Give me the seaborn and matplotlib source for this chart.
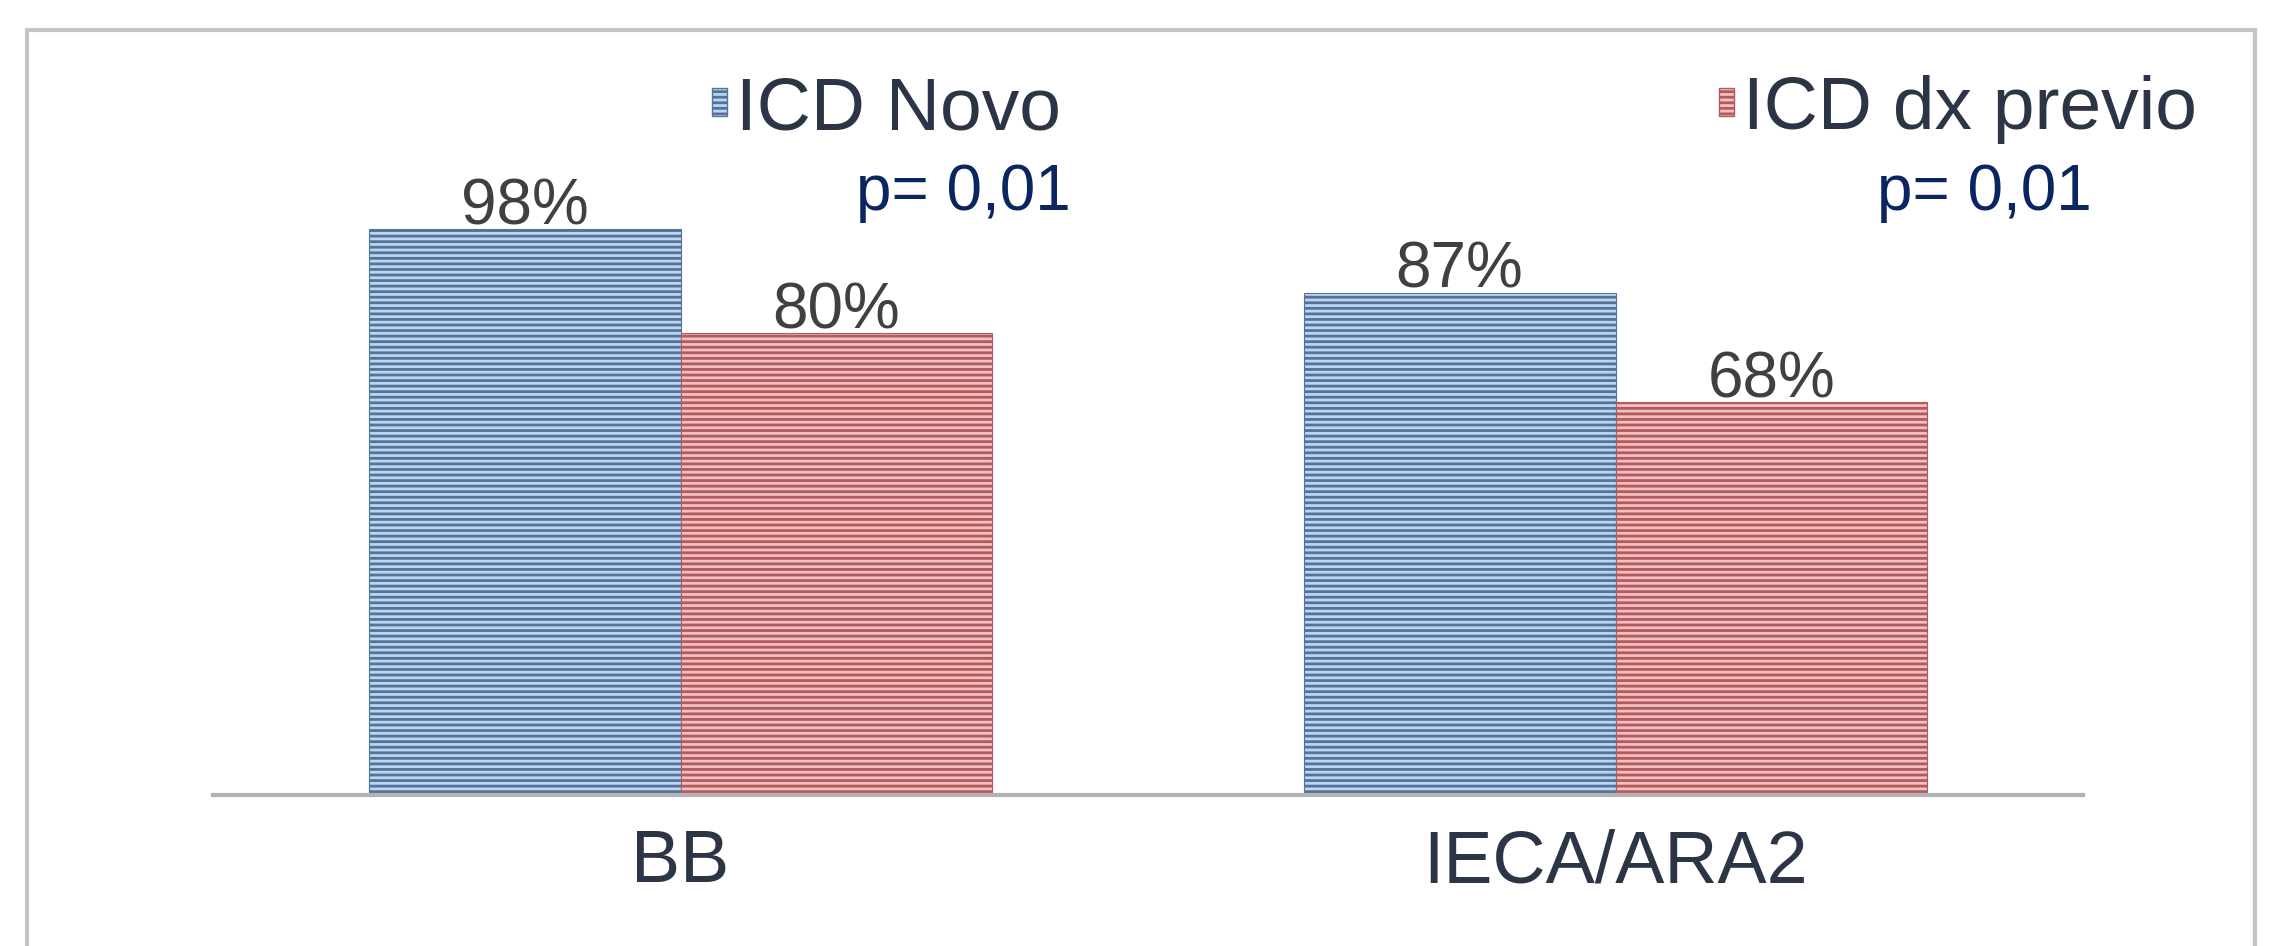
import matplotlib.pyplot as plt
import matplotlib.patches as mpatches
import seaborn as sns
import pandas as pd

# values
groups = ['BB', 'IECA/ARA2']
series = ['ICD Novo', 'ICD dx previo']
novo = [0.98, 0.87]
previo = [0.80, 0.68]
p_values = ['p= 0,01', 'p= 0,01']

face = {'ICD Novo': '#bcd5f1', 'ICD dx previo': '#f2c0c0'}
stripe = {'ICD Novo': '#557399', 'ICD dx previo': '#b25a5e'}
text_col = '#2b3545'

df = pd.DataFrame({
    'grupo': groups * 2,
    'serie': [series[0]] * 2 + [series[1]] * 2,
    'valor': novo + previo,
})

sns.set_theme(style='white')
plt.rcParams['font.family'] = ['Liberation Sans', 'DejaVu Sans']
plt.rcParams['hatch.linewidth'] = 2.0

W, H = 2276, 946
fig = plt.figure(figsize=(W / 100, H / 100), dpi=100)
ax = fig.add_axes([213 / W, (H - 795) / H, 1870 / W, 693 / H])

sns.barplot(data=df, x='grupo', y='valor', hue='serie', hue_order=series,
            palette=face, width=0.667, saturation=1, ax=ax, legend=False)

for cont, s in zip(ax.containers, series):
    for p in cont:
        p.set_hatch('---')
        p.set_edgecolor(stripe[s])
        p.set_linewidth(0.8)
        if hasattr(p, 'set_hatchcolor'):
            p.set_hatchcolor(stripe[s])
    ax.bar_label(cont, labels=[f'{v * 100:.0f}%' for v in cont.datavalues],
                 padding=-6, fontsize=46, color='#404040')

ax.set_xlim(-0.5, 1.5)
ax.set_ylim(0, 1.2)
ax.set_xlabel('')
ax.set_ylabel('')
ax.set_yticks([])
ax.tick_params(axis='x', length=0, labelsize=53, labelcolor=text_col, pad=24)
for side in ['left', 'right', 'top']:
    ax.spines[side].set_visible(False)
ax.spines['bottom'].set_color('#b3b3b3')
ax.spines['bottom'].set_linewidth(3)

# legend entries spread across the top, each with its p value underneath
handles = [mpatches.Patch(facecolor=face[s], edgecolor=stripe[s], hatch='---', label=s)
           for s in series]
fig.legend(handles=handles, loc='center left', bbox_to_anchor=(712 / W, 1 - 110 / H),
           ncol=2, frameon=False, fontsize=54, labelcolor=text_col,
           handlelength=0.2, handleheight=0.2, handletextpad=0.12,
           columnspacing=8.77, borderpad=0, borderaxespad=0)
for x, txt in zip([856, 1877], p_values):
    fig.text(x / W, 1 - 193 / H, txt, fontsize=46, color='#0b2462',
             ha='left', va='center')

# thin grey frame around the slide
fig.patches.append(mpatches.Rectangle((27 / W, -0.1), (2255 - 27) / W, 1.1 - 30 / H,
                                      transform=fig.transFigure, fill=False,
                                      edgecolor='#c4c4c4', linewidth=3))

fig.savefig('out.png', dpi=100)
